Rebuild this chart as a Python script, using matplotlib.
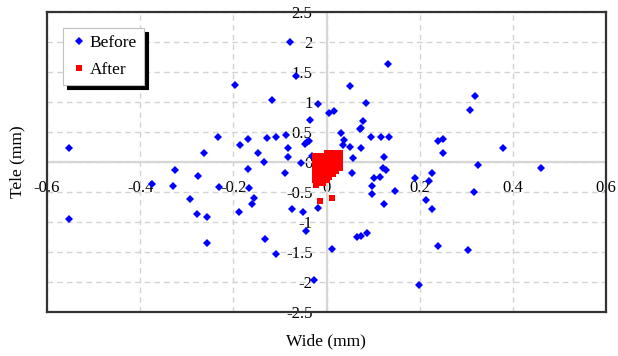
import matplotlib
matplotlib.use("Agg")
import matplotlib.pyplot as plt

plt.rcParams['font.family'] = ['Liberation Serif', 'DejaVu Serif']

# ---------------- data ----------------
before_x = [-0.553, -0.553, -0.375, -0.326, -0.329, -0.294, -0.275, -0.278, -0.256, -0.256,
            -0.262, -0.233, -0.230, -0.197, -0.185, -0.187, -0.168, -0.169, -0.167, -0.156,
            -0.161, -0.146, -0.135, -0.133, -0.128, -0.118, -0.108, -0.108, -0.090, -0.088,
            -0.082, -0.082, -0.079, -0.074, -0.065, -0.055, -0.051, -0.047, -0.043, -0.042,
            -0.037, -0.036, -0.032, -0.027, -0.019, -0.018, 0.005, 0.012, 0.017, 0.032,
            0.035, 0.037, 0.050, 0.051, 0.054, 0.057, 0.066, 0.073, 0.071, 0.075,
            0.078, 0.075, 0.084, 0.087, 0.095, 0.098, 0.098, 0.102, 0.114, 0.116,
            0.121, 0.127, 0.123, 0.123, 0.132, 0.135, 0.147, 0.191, 0.199, 0.214,
            0.221, 0.226, 0.226, 0.239, 0.250, 0.250, 0.240, 0.303, 0.308, 0.316,
            0.319, 0.325, 0.379, 0.460]
before_y = [0.24, -0.955, -0.367, -0.14, -0.40, -0.61, -0.233, -0.867, -0.91, -1.355,
            0.145, 0.42, -0.42, 1.28, 0.28, -0.84, 0.38, -0.117, -0.44, -0.595,
            -0.70, 0.145, 0.0, -1.283, 0.40, 1.03, 0.42, -1.54, -0.18, 0.445,
            0.23, 0.08, 2.0, -0.78, 1.43, -0.01, -0.84, 0.30, -1.145, 0.33,
            0.355, 0.705, 0.10, -1.967, 0.96, -0.76, 0.82, -1.45, 0.85, 0.49,
            0.28, 0.37, 1.26, 0.245, -0.18, 0.07, -1.255, -1.228, 0.545, 0.57,
            0.68, 0.23, 0.99, -1.19, 0.42, -0.395, -0.54, -0.272, -0.245, 0.42,
            -0.105, -0.133, 0.09, -0.70, 1.63, 0.42, -0.483, -0.272, -2.05, -0.633,
            -0.31, -0.178, -0.79, 0.35, 0.378, 0.145, -1.395, -1.472, 0.867, -0.495,
            1.095, -0.05, 0.24, -0.095]

after_x = [0.000, 0.010, 0.020, 0.028,
           -0.024, -0.015, -0.005, 0.005, 0.015, 0.025, 0.029,
           -0.024, -0.012, 0.000, 0.012, 0.022, 0.029,
           -0.024, -0.010, 0.004, 0.018, 0.029,
           -0.022, -0.006, 0.010, 0.025,
           -0.024, -0.010, 0.006, 0.020, 0.029,
           -0.020, -0.004, 0.012, 0.020,
           -0.024, -0.012, 0.002, 0.014,
           -0.022, -0.008, 0.006,
           -0.024, -0.012, 0.000,
           -0.020, -0.008,
           -0.022,
           -0.015, 0.011]
after_y = [0.15, 0.15, 0.15, 0.15,
           0.10, 0.10, 0.10, 0.10, 0.10, 0.10, 0.10,
           0.05, 0.05, 0.05, 0.05, 0.05, 0.05,
           0.00, 0.00, 0.00, 0.00, 0.00,
           -0.05, -0.05, -0.05, -0.05,
           -0.10, -0.10, -0.10, -0.10, -0.10,
           -0.15, -0.15, -0.15, -0.15,
           -0.20, -0.20, -0.20, -0.20,
           -0.25, -0.25, -0.25,
           -0.30, -0.30, -0.30,
           -0.35, -0.35,
           -0.38,
           -0.645, -0.605]

xticks = [-0.6, -0.4, -0.2, 0.0, 0.2, 0.4, 0.6]
xtick_labels = ['-0.6', '-0.4', '-0.2', '0', '0.2', '0.4', '0.6']
yticks = [-2.5, -2.0, -1.5, -1.0, -0.5, 0.0, 0.5, 1.0, 1.5, 2.0, 2.5]
ytick_labels = ['-2.5', '-2', '-1.5', '-1', '-0.5', '0', '0.5', '1', '1.5', '2', '2.5']

# ---------------- figure ----------------
W, H = 618, 356
fig = plt.figure(figsize=(W / 100, H / 100), dpi=100)
ax = fig.add_axes([47 / W, 44 / H, 559 / W, 300 / H])
ax.set_xlim(-0.6, 0.6)
ax.set_ylim(-2.5, 2.5)
ax.set_xticks(xticks)
ax.set_yticks(yticks)
ax.tick_params(length=0, labelbottom=False, labelleft=False)
ax.grid(True, color='#d3d3d3', linestyle=(0, (4, 3)), linewidth=1.0, zorder=0)
ax.set_axisbelow(True)
for s in ax.spines.values():
    s.set_color('#333333')
    s.set_linewidth(1.6)
ax.axhline(0, color='#d6d6d6', lw=1.6, zorder=1)
ax.axvline(0, color='#d6d6d6', lw=1.6, zorder=1)

ax.plot(before_x, before_y, linestyle='none', marker='D', ms=4.2, mew=0,
        color='#0000ff', label='Before', zorder=3)
ax.plot(after_x, after_y, linestyle='none', marker='s', ms=5.0, mew=0,
        color='#ff0000', label='After', zorder=4)

# axes through the origin carrying the tick labels
secx = ax.secondary_xaxis(0.5)
secx.set_alignment('bottom')
secx.set_xticks(xticks, labels=xtick_labels)
secx.tick_params(length=0, pad=13, labelsize=12)
secy = ax.secondary_yaxis(0.5)
secy.set_alignment('left')
secy.set_yticks(yticks, labels=ytick_labels)
secy.tick_params(length=0, pad=10, labelsize=12)
for sa in (secx, secy):
    for s in sa.spines.values():
        s.set_visible(False)

fig.text(326 / W, 1 - 341 / H, 'Wide (mm)', ha='center', va='center', fontsize=12.5)
fig.text(17 / W, 1 - 162 / H, 'Tele (mm)', ha='center', va='center',
         rotation=90, fontsize=12.5)

leg = ax.legend(loc='upper left', bbox_to_anchor=((63 - 47) / 559, 1 - (28 - 12) / 300),
                borderaxespad=0, fontsize=12.5, frameon=True, fancybox=False,
                framealpha=1, edgecolor='#c0c0c0', handlelength=1.0,
                handletextpad=0.15, borderpad=0.4, labelspacing=0.62,
                shadow={'color': 'black', 'alpha': 1, 'ox': 3, 'oy': -2.6})
leg.get_frame().set_linewidth(0.8)

fig.savefig('out.png', dpi=100)
